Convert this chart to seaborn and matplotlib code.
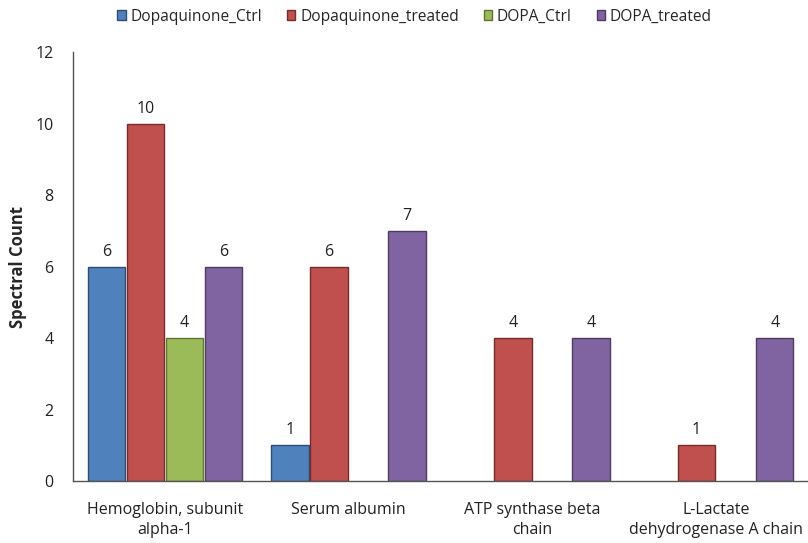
import matplotlib
matplotlib.use("Agg")
import matplotlib.pyplot as plt
import seaborn as sns
import pandas as pd
from matplotlib.patches import Patch

proteins = ["Hemoglobin, subunit\nalpha-1", "Serum albumin",
            "ATP synthase beta\nchain", "L-Lactate\ndehydrogenase A chain"]
series = ["Dopaquinone_Ctrl", "Dopaquinone_treated", "DOPA_Ctrl", "DOPA_treated"]
dq_ctrl = [6, 1, 0, 0]
dq_treated = [10, 6, 4, 1]
dopa_ctrl = [4, 0, 0, 0]
dopa_treated = [6, 7, 4, 4]
yticks = [0, 2, 4, 6, 8, 10, 12]

colors = ["#4F81BD", "#C0504D", "#9BBB59", "#8064A2"]
edges = ["#2C4D75", "#772C2A", "#5F7530", "#4D3B62"]

rows = []
for name, vals in zip(series, [dq_ctrl, dq_treated, dopa_ctrl, dopa_treated]):
    for p, v in zip(proteins, vals):
        rows.append({"protein": p, "series": name, "count": v})
df = pd.DataFrame(rows)

sns.set_style("white")
plt.rcParams["font.family"] = ["Open Sans", "DejaVu Sans"]

fig = plt.figure(figsize=(8.08, 5.43), dpi=100)
ax = fig.add_axes([0.0903, 0.1142, 0.9097, 0.7898])

sns.barplot(data=df, x="protein", y="count", hue="series", order=proteins,
            hue_order=series, palette=colors, width=0.85, gap=0.04,
            saturation=1, legend=False, ax=ax, errorbar=None)

for container, ec in zip(ax.containers, edges):
    for bar in container:
        bar.set_edgecolor(ec)
        bar.set_linewidth(1.0)
        if bar.get_height() == 0:
            bar.set_visible(False)
    labels = [f"{int(b.get_height())}" if b.get_height() > 0 else "" for b in container]
    ax.bar_label(container, labels=labels, padding=5, fontsize=11.5, color="#222222")

ax.set_xlim(-0.5, 3.5)
ax.set_ylim(0, 12)
ax.set_yticks(yticks)
ax.tick_params(axis="both", length=0, labelsize=11.5, colors="#222222")
ax.tick_params(axis="y", pad=14)
ax.tick_params(axis="x", pad=15)
for lbl in ax.get_xticklabels():
    lbl.set_linespacing(1.35)
ax.set_xlabel("")
ax.set_ylabel("Spectral Count", fontsize=12, fontweight="bold", labelpad=6)
for s in ["top", "right"]:
    ax.spines[s].set_visible(False)
for s in ["left", "bottom"]:
    ax.spines[s].set_color("#555555")
    ax.spines[s].set_linewidth(1.0)

handles = [Patch(facecolor=c, edgecolor=e, label=n) for c, e, n in zip(colors, edges, series)]
fig.legend(handles=handles, loc="upper center", bbox_to_anchor=(0.513, 1.01), ncol=4,
           frameon=False, fontsize=11.2, handlelength=0.55, handleheight=0.55,
           handletextpad=0.3, columnspacing=1.6)

fig.savefig("out.png", dpi=100)
